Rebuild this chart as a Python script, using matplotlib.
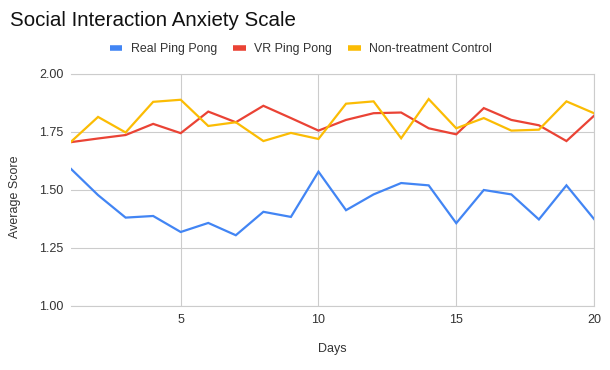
import matplotlib
matplotlib.use('Agg')
import matplotlib.pyplot as plt
from matplotlib.lines import Line2D

plt.rcParams['font.family'] = ['Liberation Sans', 'DejaVu Sans']

# data
days = list(range(1, 21))
real_ping_pong = [1.593, 1.478, 1.381, 1.388, 1.319, 1.358, 1.305, 1.406, 1.384, 1.579,
                  1.413, 1.481, 1.530, 1.520, 1.357, 1.500, 1.481, 1.373, 1.520, 1.375]
vr_ping_pong = [1.706, 1.722, 1.737, 1.785, 1.745, 1.838, 1.792, 1.863, 1.810, 1.756,
                1.802, 1.831, 1.834, 1.766, 1.740, 1.853, 1.802, 1.779, 1.711, 1.820]
control = [1.706, 1.815, 1.748, 1.880, 1.889, 1.776, 1.792, 1.711, 1.746, 1.720,
           1.872, 1.882, 1.723, 1.892, 1.766, 1.810, 1.756, 1.760, 1.882, 1.831]

labels = ['Real Ping Pong', 'VR Ping Pong', 'Non-treatment Control']
colors = ['#4285F4', '#EA4335', '#FBBC04']
x_ticks = [5, 10, 15, 20]
y_ticks = [1.00, 1.25, 1.50, 1.75, 2.00]

fig = plt.figure(figsize=(6.1, 3.7), dpi=100)
ax = fig.add_axes([70.5 / 610, 1 - 306 / 370, (594 - 70.5) / 610, (306 - 74) / 370])

for series, c in zip([real_ping_pong, vr_ping_pong, control], colors):
    ax.plot(days, series, color=c, linewidth=1.6, solid_joinstyle='miter')

ax.set_xlim(1, 20)
ax.set_ylim(1.0, 2.0)
ax.set_xticks(x_ticks)
ax.set_yticks(y_ticks)
ax.set_yticklabels([f'{v:.2f}' for v in y_ticks])
ax.grid(True, color='#cccccc', linewidth=0.8)
ax.set_axisbelow(True)
ax.tick_params(length=0, labelsize=9, colors='#333333')
ax.tick_params(axis='y', pad=5)
ax.tick_params(axis='x', pad=6)
for side in ['top', 'bottom', 'right']:
    ax.spines[side].set_color('#cccccc')
    ax.spines[side].set_linewidth(0.8)
ax.spines['left'].set_visible(False)

fig.text(15 / 610, 1 - 197 / 370, 'Average Score', rotation=90, ha='center', va='center',
         fontsize=9, color='#333333')
fig.text(332 / 610, 1 - 349 / 370, 'Days', ha='center', va='center', fontsize=9, color='#333333')
fig.text(10 / 610, 1 - 20 / 370, 'Social Interaction Anxiety Scale', ha='left', va='center',
         fontsize=14.8, color='#111111')

handles = [Line2D([0], [0], color=c, linewidth=4, solid_capstyle='butt') for c in colors]
fig.legend(handles, labels, loc='center', bbox_to_anchor=(301 / 610, 1 - 49 / 370), ncol=3,
           frameon=False, fontsize=8.9, handlelength=1.0, handletextpad=0.7,
           columnspacing=1.3, labelcolor='#333333')

fig.savefig('out.png', dpi=100)
